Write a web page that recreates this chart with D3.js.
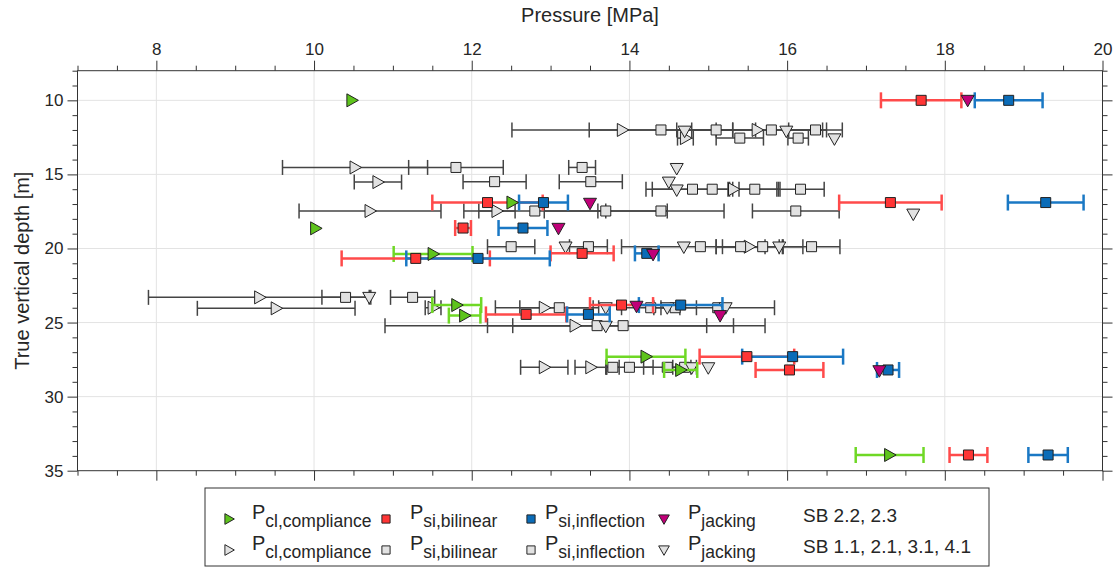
<!DOCTYPE html>
<html>
<head>
<meta charset="utf-8">
<script src="https://cdn.jsdelivr.net/npm/d3@7"></script>
<style>
  body { margin: 0; background: #fff; }
  svg text { font-family: "Liberation Sans", Arial, sans-serif; fill: #262626; }
</style>
</head>
<body>
<div id="chart"></div>
<script>
// [pressure MPa, depth m, half error]  -- SB 2.2, 2.3
var clColored = [
  [10.48, 10.0, 0], [12.51, 16.9, 0], [10.02, 18.64, 0], [11.51, 20.37, 0.50],
  [11.81, 23.82, 0.31], [11.91, 24.53, 0.20], [14.21, 27.30, 0.50],
  [14.65, 28.20, 0.21], [17.30, 33.94, 0.43]
];
var bilColored = [
  [17.70, 10.0, 0.51], [12.20, 16.9, 0.70], [17.31, 16.9, 0.65], [11.89, 18.62, 0.10],
  [11.29, 20.67, 0.94], [13.40, 20.33, 0.40], [13.90, 23.82, 0.40], [12.69, 24.45, 0.51],
  [15.49, 27.30, 0.60], [16.03, 28.20, 0.43], [18.30, 33.94, 0.24]
];
var infColored = [
  [18.81, 10.0, 0.43], [12.91, 16.9, 0.31], [19.28, 16.9, 0.48], [12.65, 18.62, 0.31],
  [12.08, 20.67, 0.91], [14.22, 20.33, 0.15], [14.65, 23.82, 0.53], [13.48, 24.45, 0.27],
  [16.07, 27.30, 0.64], [17.28, 28.20, 0.14], [19.31, 33.94, 0.25]
];
var jackColored = [
  [18.29, 10.0], [13.50, 16.95], [13.10, 18.64], [14.30, 20.4],
  [14.09, 23.9], [15.15, 24.53], [17.17, 28.25]
];

// SB 1.1, 2.1, 3.1, 4.1
var clGray = [
  [13.91, 12.0, 1.40], [14.71, 12.55, 0.10], [15.62, 12.0, 0.83],
  [10.52, 14.53, 0.92], [10.81, 15.52, 0.30], [15.32, 16.0, 0.07],
  [10.71, 17.47, 0.90], [12.32, 17.47, 0.23], [15.52, 19.88, 0.42],
  [9.31, 23.3, 1.41], [9.52, 24.04, 1.0], [11.51, 24.0, 0.10], [12.92, 24.0, 0.62],
  [13.31, 25.21, 2.41], [12.92, 28.02, 0.30], [13.51, 28.02, 0.20]
];
var bilGray = [
  [14.40, 12.0, 0.91], [15.10, 12.0, 0.50], [15.40, 12.55, 0.30], [11.80, 14.53, 0.60],
  [12.29, 15.49, 0.40], [14.80, 16.0, 0.51], [15.05, 16.0, 0.84], [12.80, 17.47, 0.90],
  [13.70, 17.47, 0.78], [12.50, 19.88, 0.30], [14.90, 19.88, 1.0], [15.41, 19.88, 0.31],
  [10.40, 23.3, 0.30], [13.11, 24.0, 0.50], [14.27, 24.0, 0.37], [13.59, 25.21, 1.39],
  [13.79, 28.02, 0.08], [14.00, 28.02, 0.30]
];
var infGray = [
  [15.80, 12.0, 0.70], [16.36, 12.0, 0.34], [16.14, 12.55, 0.13], [13.40, 14.53, 0.17],
  [13.51, 15.49, 0.40], [15.59, 16.0, 0.32], [16.17, 16.0, 0.30], [14.40, 17.47, 0.80],
  [16.11, 17.47, 0.55], [13.48, 19.88, 0.24], [15.69, 19.88, 0.51], [16.31, 19.88, 0.36],
  [11.25, 23.3, 0.28], [14.58, 24.0, 0.27], [15.12, 24.0, 0.72], [13.92, 25.21, 1.40],
  [14.48, 28.02, 0.30], [14.70, 28.02, 0.15]
];
var jackGray = [
  [14.70, 12.08], [15.99, 12.08], [16.60, 12.6], [14.60, 14.6], [14.50, 15.52],
  [14.60, 16.05], [17.60, 17.68], [13.19, 19.9], [14.69, 19.9], [15.90, 19.9],
  [10.70, 23.3], [13.70, 24.0], [14.48, 24.0], [15.22, 24.0], [13.70, 25.25],
  [14.79, 28.05], [15.00, 28.05]
];

var xMajor = [8, 10, 12, 14, 16, 18, 20];
var yMajor = [10, 15, 20, 25, 30, 35];
var legendNames = ["cl,compliance", "si,bilinear", "si,inflection", "jacking"];
var legendGroups = ["SB 2.2, 2.3", "SB 1.1, 2.1, 3.1, 4.1"];

var width = 1115, height = 569;
var plotL = 77.5, plotR = 1102.5, plotT = 70.7, plotB = 470.7;

var svg = d3.select('#chart').append('svg').attr('width', width).attr('height', height);

var x = d3.scaleLinear().domain([7, 20]).range([plotL, plotR]);
var y = d3.scaleLinear().domain([8, 35]).range([plotT, plotB]);

var xMinor = d3.range(7, 20.01, 0.5).filter(function(v) { return xMajor.indexOf(v) < 0; });
var yMinor = d3.range(8, 35.01, 1).filter(function(v) { return yMajor.indexOf(v) < 0; });

// grid
svg.append('g').selectAll('line').data(xMajor.filter(function(v) { return v < 20; }))
  .enter().append('line')
  .attr('x1', function(d) { return x(d); }).attr('x2', function(d) { return x(d); })
  .attr('y1', plotT).attr('y2', plotB)
  .attr('stroke', '#e3e3e3').attr('stroke-width', 1);
svg.append('g').selectAll('line').data(yMajor.filter(function(v) { return v < 35; }))
  .enter().append('line')
  .attr('y1', function(d) { return y(d); }).attr('y2', function(d) { return y(d); })
  .attr('x1', plotL).attr('x2', plotR)
  .attr('stroke', '#e3e3e3').attr('stroke-width', 1);

function styleAxis(g) {
  g.select('.domain').remove();
  g.selectAll('.tick line').attr('stroke', '#333');
  g.selectAll('.tick text').attr('fill', '#262626').style('font-size', '17px')
    .style('font-family', '"Liberation Sans", Arial, sans-serif');
}

svg.append('g').attr('transform', 'translate(0,' + plotT + ')')
  .call(d3.axisTop(x).tickValues(xMajor).tickSize(10).tickPadding(6).tickFormat(d3.format('d'))).call(styleAxis);
svg.append('g').attr('transform', 'translate(0,' + plotT + ')')
  .call(d3.axisTop(x).tickValues(xMinor).tickSize(5).tickFormat('')).call(styleAxis);
svg.append('g').attr('transform', 'translate(0,' + plotB + ')')
  .call(d3.axisBottom(x).tickValues(xMajor).tickSize(10).tickFormat('')).call(styleAxis);
svg.append('g').attr('transform', 'translate(0,' + plotB + ')')
  .call(d3.axisBottom(x).tickValues(xMinor).tickSize(5).tickFormat('')).call(styleAxis);
svg.append('g').attr('transform', 'translate(' + plotL + ',0)')
  .call(d3.axisLeft(y).tickValues(yMajor).tickSize(10).tickPadding(4).tickFormat(d3.format('d'))).call(styleAxis);
svg.append('g').attr('transform', 'translate(' + plotL + ',0)')
  .call(d3.axisLeft(y).tickValues(yMinor).tickSize(5).tickFormat('')).call(styleAxis);
svg.append('g').attr('transform', 'translate(' + plotR + ',0)')
  .call(d3.axisRight(y).tickValues(yMajor).tickSize(10).tickFormat('')).call(styleAxis);
svg.append('g').attr('transform', 'translate(' + plotR + ',0)')
  .call(d3.axisRight(y).tickValues(yMinor).tickSize(5).tickFormat('')).call(styleAxis);

svg.append('rect').attr('x', plotL).attr('y', plotT)
  .attr('width', plotR - plotL).attr('height', plotB - plotT)
  .attr('fill', 'none').attr('stroke', '#333').attr('stroke-width', 1);

svg.append('text').attr('x', (plotL + plotR) / 2).attr('y', 22)
  .attr('text-anchor', 'middle').style('font-size', '20px').text('Pressure [MPa]');
svg.append('text').attr('transform', 'translate(29,' + (plotT + plotB) / 2 + ') rotate(-90)')
  .attr('text-anchor', 'middle').style('font-size', '20px').text('True vertical depth [m]');

// markers
var triRight = 'M-5,-6.5L6.5,0L-5,6.5Z';
var triDown = 'M-6.5,-5L6.5,-5L0,6.5Z';
var square = 'M-5,-5L5,-5L5,5L-5,5Z';

function errorBars(data, color, sw, cap) {
  var g = svg.append('g').attr('stroke', color).attr('stroke-width', sw).attr('fill', 'none');
  var withErr = data.filter(function(d) { return d[2] > 0; });
  g.selectAll('.bar').data(withErr).enter().append('line')
    .attr('x1', function(d) { return x(d[0] - d[2]); })
    .attr('x2', function(d) { return x(d[0] + d[2]); })
    .attr('y1', function(d) { return y(d[1]); })
    .attr('y2', function(d) { return y(d[1]); });
  g.selectAll('.capL').data(withErr).enter().append('line')
    .attr('x1', function(d) { return x(d[0] - d[2]); })
    .attr('x2', function(d) { return x(d[0] - d[2]); })
    .attr('y1', function(d) { return y(d[1]) - cap / 2; })
    .attr('y2', function(d) { return y(d[1]) + cap / 2; });
  g.selectAll('.capR').data(withErr).enter().append('line')
    .attr('x1', function(d) { return x(d[0] + d[2]); })
    .attr('x2', function(d) { return x(d[0] + d[2]); })
    .attr('y1', function(d) { return y(d[1]) - cap / 2; })
    .attr('y2', function(d) { return y(d[1]) + cap / 2; });
}

function markers(data, shape, fill) {
  svg.append('g').selectAll('path').data(data).enter().append('path')
    .attr('d', shape)
    .attr('transform', function(d) { return 'translate(' + x(d[0]) + ',' + y(d[1]) + ')'; })
    .attr('fill', fill).attr('stroke', '#222').attr('stroke-width', 1);
}

var grayFill = '#e2e2e2', grayLine = '#444';
var green = '#5ec41c', greenBar = '#6fd825';
var red = '#ff3535', redBar = '#ff4a4a';
var blue = '#0a6cb8', blueBar = '#1a78c4';
var magenta = '#c00078';

errorBars(clGray, grayLine, 1.5, 15);
errorBars(bilGray, grayLine, 1.5, 15);
errorBars(infGray, grayLine, 1.5, 15);
markers(clGray, triRight, grayFill);
markers(bilGray, square, grayFill);
markers(infGray, square, grayFill);
markers(jackGray, triDown, grayFill);

errorBars(clColored, greenBar, 2.5, 16);
errorBars(bilColored, redBar, 2.5, 16);
errorBars(infColored, blueBar, 2.5, 16);
markers(clColored, triRight, green);
markers(bilColored, square, red);
markers(infColored, square, blue);
markers(jackColored, triDown, magenta);

// legend
var lg = svg.append('g');
lg.append('rect').attr('x', 205).attr('y', 488).attr('width', 784).attr('height', 78)
  .attr('fill', '#fff').attr('stroke', '#333').attr('stroke-width', 1);

var legendX = [229, 386, 531, 664];
var textX = [252, 410, 545, 688];
var rowY = [519, 550];
var shapes = [triRight, square, square, triDown];
var fills = [[green, red, blue, magenta], [grayFill, grayFill, grayFill, grayFill]];

rowY.forEach(function(ry, r) {
  legendNames.forEach(function(name, i) {
    lg.append('path').attr('d', shapes[i])
      .attr('transform', 'translate(' + legendX[i] + ',' + ry + ') scale(0.82)')
      .attr('fill', fills[r][i]).attr('stroke', '#222').attr('stroke-width', 1.2);
    var t = lg.append('text').attr('x', textX[i]).attr('y', ry)
      .style('font-size', '20px');
    t.append('tspan').text('P');
    t.append('tspan').attr('dy', 8).style('font-size', '17.5px').text(name);
  });
  lg.append('text').attr('x', 803).attr('y', ry + 3).style('font-size', '19px').text(legendGroups[r]);
});
</script>
</body>
</html>
